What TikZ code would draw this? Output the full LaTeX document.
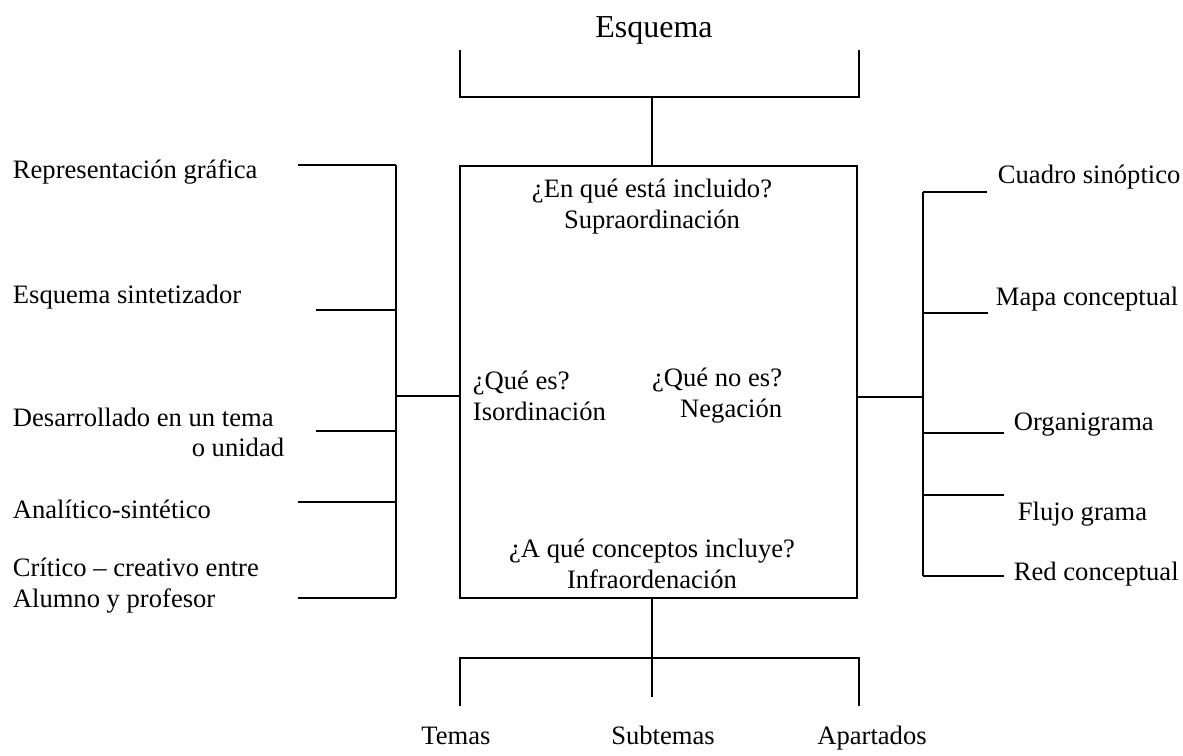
\documentclass[tikz,border=0pt]{standalone}
\usepackage{fontspec}
\setmainfont{Liberation Serif}
\usetikzlibrary{positioning}

\begin{document}
\begin{tikzpicture}[x=0.5pt,y=-0.5pt, line width=0.9pt,
	texto/.style={font=\fontsize{13.3}{15.5}\selectfont, inner sep=0pt},
	linea/.style={texto, text height=1.4ex, text depth=0.65ex, yshift=-2pt},
	caja/.style={draw, minimum width=198.5pt, minimum height=216pt}]
	
	\useasboundingbox (0,0) rectangle (1183,755);
	
	% titulo y llave superior
	\node[linea, font=\fontsize{16}{18}\selectfont] (esquema) at (654,30) {Esquema};
	\coordinate (sup) at (652,97);
	\draw (460,50) -- (460,97) -- (859,97) -- (859,50);
	
	% cuadro central
	\node[caja] (centro) at (658.5,382) {};
	\draw (sup) -- (sup |- centro.north);
	
	\node[texto, align=center] (supra) at (652,207) {¿En qué está incluido?\\Supraordinación};
	\node[texto, align=left, anchor=west] (iso) at (472,396) {¿Qué es?\\Isordinación};
	\node[texto, align=right, anchor=east] (neg) at (783,396) {¿Qué no es?\\Negación};
	\node[texto, align=center] (infra) at (652,564) {¿A qué conceptos incluye?\\Infraordenación};
	
	% rama izquierda
	\coordinate (izq) at (396,396);
	\draw (izq) -- (izq -| centro.west);
	\draw (396,165) -- (396,598);
	\foreach \n/\x/\y in {a/298/165, b/316/310, c/316/431, d/298/502, e/298/598} {
		\coordinate (l\n) at (\x,\y);
		\draw (l\n) -- (l\n -| izq);
	}
	
	\node[linea, anchor=west] (rep) at (12,171) {Representación gráfica};
	\node[linea, anchor=west] (sint) at (12,296) {Esquema sintetizador};
	\node[linea, anchor=west] (des) at (12,419) {Desarrollado en un tema};
	\node[linea, anchor=east] (uni) at (285,449) {o unidad};
	\node[linea, anchor=west] (ana) at (12,511) {Analítico-sintético};
	\node[texto, align=left, anchor=west] (cri) at (12,586) {Crítico – creativo entre\\Alumno y profesor};
	
	% rama derecha
	\coordinate (der) at (923,397);
	\draw (der -| centro.east) -- (der);
	\draw (923,192) -- (923,576);
	\foreach \n/\x/\y in {a/987/192, b/988/313, c/1004/433, d/1004/495, e/1004/576} {
		\coordinate (r\n) at (\x,\y);
		\draw (r\n -| der) -- (r\n);
	}
	
	\node[linea, anchor=west] (cua) at (997,176) {Cuadro sinóptico};
	\node[linea, anchor=west] (mapa) at (995,298) {Mapa conceptual};
	\node[linea, anchor=west] (org) at (1013,423) {Organigrama};
	\node[linea, anchor=west] (flu) at (1017,513) {Flujo grama};
	\node[linea, anchor=west] (red) at (1013,573) {Red conceptual};
	
	% llave inferior
	\coordinate (inf) at (652,658);
	\draw (inf |- centro.south) -- (652,697);
	\draw (460,706) -- (460,658) -- (859,658) -- (859,706);
	
	\node[linea] (temas) at (456,737) {Temas};
	\node[linea] (subt) at (663,737) {Subtemas};
	\node[linea] (apar) at (872,737) {Apartados};
	
\end{tikzpicture}
\end{document}
